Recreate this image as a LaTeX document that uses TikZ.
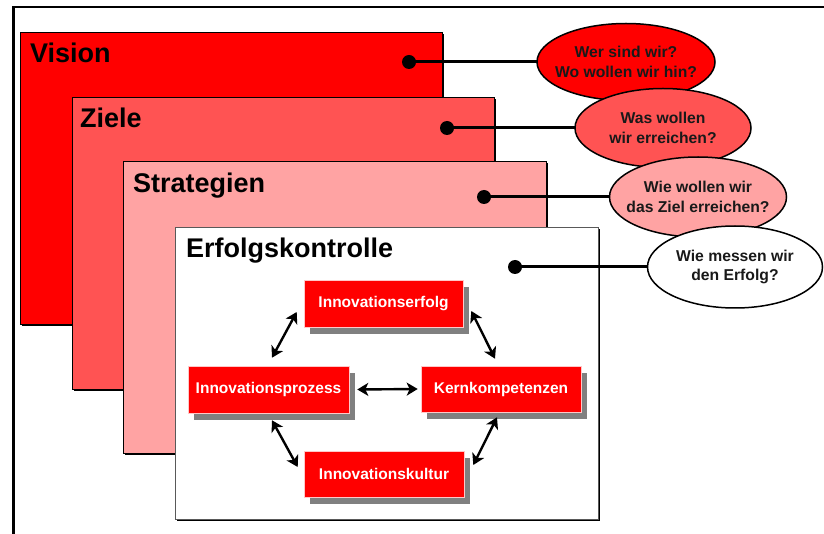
\documentclass[tikz,border=0pt]{standalone}
\usepackage{fontspec}
\setmainfont{Liberation Sans}
\usetikzlibrary{shapes.geometric,arrows.meta,calc,shadows}

\definecolor{visionred}{HTML}{FF0000}
\definecolor{zielered}{HTML}{FF5353}
\definecolor{stratpink}{HTML}{FFA3A3}
\definecolor{boxshadow}{HTML}{808080}
\definecolor{boxedge}{HTML}{FFC8C8}

\begin{document}
\begin{tikzpicture}[x=1pt,y=-1pt,
  panel/.style={draw=black, line width=1.2pt, anchor=north west, inner sep=0pt,
    drop shadow={shadow xshift=1.5pt, shadow yshift=-1.5pt, opacity=1, fill=black}},
  paneltitle/.style={anchor=base west, inner sep=0pt,
    font=\bfseries\fontsize{27}{31}\selectfont},
  dot/.style={circle, fill=black, minimum size=14pt, inner sep=0pt},
  link/.style={line width=3pt},
  bubble/.style={ellipse, draw=black, line width=1.5pt, inner sep=0pt},
  bubbletext/.style={align=center, inner sep=0pt, text=black!90,
    font=\bfseries\fontsize{15.7}{19.5}\selectfont},
  topic/.style={fill=visionred, draw=boxedge, line width=0.6pt, inner sep=0pt,
    text=white, font=\bfseries\fontsize{15.5}{18}\selectfont,
    drop shadow={shadow xshift=6pt, shadow yshift=-7pt, opacity=1, fill=boxshadow}},
  tip/.style={Stealth[length=11pt,width=13pt,inset=3pt]},
  biarrow/.style={line width=2.4pt, {Stealth[length=11pt,width=13pt,inset=3pt]}-{Stealth[length=11pt,width=13pt,inset=3pt]}}
]
\useasboundingbox (0,0) rectangle (824,534);

% outer frame
\draw[line width=2.6pt] (13.5,534) -- (13.5,7) -- (824,7);

% stacked planning levels
\node[panel, fill=visionred, minimum width=422pt, minimum height=292pt] (vision) at (20,32) {};
\node[panel, fill=zielered, minimum width=422pt, minimum height=292pt] (ziele) at (72,97) {};
\node[panel, fill=stratpink, minimum width=423pt, minimum height=292pt] (strat) at (123,161) {};
\node[panel, fill=white, draw=black!65, line width=0.9pt, minimum width=423pt, minimum height=292pt] (erfolg) at (175,227) {};

\node[paneltitle] (tvision) at (30,63) {Vision};
\node[paneltitle] (tziele) at (80,128) {Ziele};
\node[paneltitle] (tstrat) at (133,193) {Strategien};
\node[paneltitle] (terfolg) at (186,258) {Erfolgskontrolle};

% markers
\node[dot] (dvision) at (409,62) {};
\node[dot] (dziele) at (447,128) {};
\node[dot] (dstrat) at (484,197) {};
\node[dot] (derfolg) at (515,267) {};

% question bubbles (outline only, used as link targets)
\node[ellipse, inner sep=0pt, minimum width=178pt, minimum height=77pt] (qvision) at (626,62) {};
\node[ellipse, inner sep=0pt, minimum width=176pt, minimum height=79pt] (qziele) at (663,128) {};
\node[ellipse, inner sep=0pt, minimum width=177pt, minimum height=80pt] (qstrat) at (698,197) {};
\node[ellipse, inner sep=0pt, minimum width=175pt, minimum height=82pt] (qerfolg) at (735,267) {};

\draw[link] (dvision.center) -- (qvision.west);
\draw[link] (dziele.center) -- (qziele.west);
\draw[link] (dstrat.center) -- (qstrat.west);
\draw[link] (derfolg.center) -- (qerfolg.west);

% filled bubbles, later ones overlapping earlier ones
\node[bubble, fill=visionred, minimum width=178pt, minimum height=77pt] at (qvision) {};
\node[bubbletext] (tqvision) at (qvision) {Wer sind wir?\\Wo wollen wir hin?};
\node[bubble, fill=zielered, minimum width=176pt, minimum height=79pt] at (qziele) {};
\node[bubbletext] (tqziele) at (qziele) {Was wollen\\wir erreichen?};
\node[bubble, fill=stratpink, minimum width=177pt, minimum height=80pt] at (qstrat) {};
\node[bubbletext] (tqstrat) at (qstrat) {Wie wollen wir\\das Ziel erreichen?};
\node[bubble, fill=white, minimum width=175pt, minimum height=82pt] at (qerfolg) {};
\node[bubbletext] (tqerfolg) at (qerfolg) {Wie messen wir\\den Erfolg?};

% innovation cycle
\node[topic, minimum width=159pt, minimum height=47pt] (ie) at (383.5,303.5) {Innovationserfolg};
\node[topic, minimum width=161pt, minimum height=47pt] (ip) at (268.5,389.5) {Innovationsprozess};
\node[topic, minimum width=160pt, minimum height=46pt] (ik) at (501,389) {Kernkompetenzen};
\node[topic, minimum width=160pt, minimum height=46pt] (iu) at (384,474) {Innovationskultur};

\coordinate (a1s) at ($(ie.west)+(-7,8.5)$);
\coordinate (a1e) at ($(ip.north)+(3.5,-8)$);
\coordinate (a2s) at ($(ie.east)+(8,7.5)$);
\coordinate (a2e) at ($(ik.north)+(-6,-7)$);
\coordinate (a3s) at ($(ip.east)+(8,0)$);
\coordinate (a3e) at ($(ik.west)+(-3,0)$);
\coordinate (a4s) at ($(ip.south)+(3.5,7)$);
\coordinate (a4e) at ($(iu.west)+(-6,-7)$);
\coordinate (a5s) at ($(ik.south)+(-4,5)$);
\coordinate (a5e) at ($(iu.east)+(9,-9)$);

\draw[biarrow] (a1s) -- (a1e);
\draw[biarrow] (a2s) -- (a2e);
\draw[biarrow] (a3s) -- (a3e);
\draw[biarrow] (a4s) -- (a4e);
\draw[biarrow] (a5s) -- (a5e);
\end{tikzpicture}
\end{document}
